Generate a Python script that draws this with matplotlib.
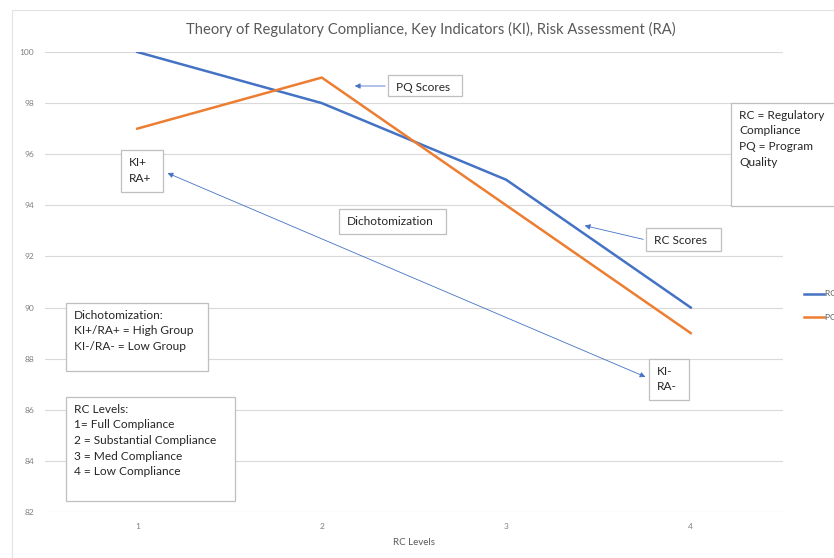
"""Theory of Regulatory Compliance chart: RC vs PQ scores by RC level."""

import matplotlib

matplotlib.use("Agg")
import matplotlib.pyplot as plt
from matplotlib.patches import Rectangle

rc_levels = [1, 2, 3, 4]
rc_scores = [100, 98, 95, 90]
pq_scores = [97, 99, 94, 89]
y_ticks = [82, 84, 86, 88, 90, 92, 94, 96, 98, 100]

W, H = 834, 558
BLUE = "#4472C4"
ORANGE = "#ED7D31"
GRID = "#d9d9d9"
BOX_EDGE = "#bfbfbf"
TXT = "#262626"

plt.rcParams["font.family"] = ["Lato", "DejaVu Sans"]

fig = plt.figure(figsize=(W / 100, H / 100), dpi=100)


def fx(px):
    return px / W


def fy(py):
    return 1 - py / H


# outer chart border (runs off the right and bottom edges)
fig.add_artist(Rectangle((fx(12), fy(600)), fx(900), 590 / H, transform=fig.transFigure,
                         fill=False, ec="#e3e3e3", lw=0.8))

ax = fig.add_axes([fx(45), fy(512), fx(783 - 45), (512 - 52) / H])
ax.plot(rc_levels, rc_scores, color=BLUE, lw=1.8, label="RC Scores", solid_joinstyle="round")
ax.plot(rc_levels, pq_scores, color=ORANGE, lw=1.8, label="PQ Scores", solid_joinstyle="round")
ax.set_xlim(0.5, 4.5)
ax.set_ylim(82, 100)
ax.set_xticks(rc_levels)
ax.set_yticks(y_ticks)
ax.tick_params(length=0, labelsize=6, colors="#7f7f7f", pad=8)
ax.grid(axis="y", color=GRID, lw=0.8)
ax.set_axisbelow(True)
for s in ax.spines.values():
    s.set_visible(False)
ax.set_xlabel("RC Levels", fontsize=7, color="#595959", labelpad=6)

fig.text(fx(431), fy(29), "Theory of Regulatory Compliance, Key Indicators (KI), Risk Assessment (RA)",
         ha="center", va="center", fontsize=10.6, color="#595959")

# legend sits at the right edge and is cut off there, as in the source chart
leg = fig.legend(loc="upper left", bbox_to_anchor=(fx(796), fy(283)), frameon=False,
                 fontsize=6, handlelength=2.4, handletextpad=0.2, labelspacing=2.0,
                 labelcolor="#595959")


def box(x0, y0, x1, y1, text):
    fig.add_artist(Rectangle((fx(x0), fy(y1)), fx(x1 - x0), (y1 - y0) / H,
                             transform=fig.transFigure, fc="white", ec=BOX_EDGE, lw=0.9, zorder=5))
    fig.text(fx(x0 + 8), fy(y0 + 7), text, ha="left", va="top",
             fontsize=8.6, color=TXT, linespacing=1.5, zorder=6)


def arrow(x0, y0, x1, y1, style="-|>"):
    fig.add_artist(matplotlib.patches.FancyArrowPatch(
        (fx(x0), fy(y0)), (fx(x1), fy(y1)), transform=fig.transFigure,
        arrowstyle=style, mutation_scale=8, color=BLUE, lw=0.6, zorder=4))


box(388, 75, 462, 96, "PQ Scores")
arrow(388, 86, 352, 86)
box(121, 150, 163, 192, "KI+\nRA+")
box(339, 209, 446, 234, "Dichotomization")
box(646, 228, 721, 251, "RC Scores")
arrow(646, 240, 582, 225)
box(731, 103, 900, 206, "RC = Regulatory\nCompliance\nPQ = Program\nQuality")
box(649, 359, 689, 400, "KI-\nRA-")
arrow(648, 378, 165, 172, style="<|-|>")
box(66, 303, 208, 371, "Dichotomization:\nKI+/RA+ = High Group\nKI-/RA- = Low Group")
box(66, 397, 235, 501, "RC Levels:\n1= Full Compliance\n2 = Substantial Compliance\n3 = Med Compliance\n4 = Low Compliance")

fig.savefig("out.png", dpi=100)
